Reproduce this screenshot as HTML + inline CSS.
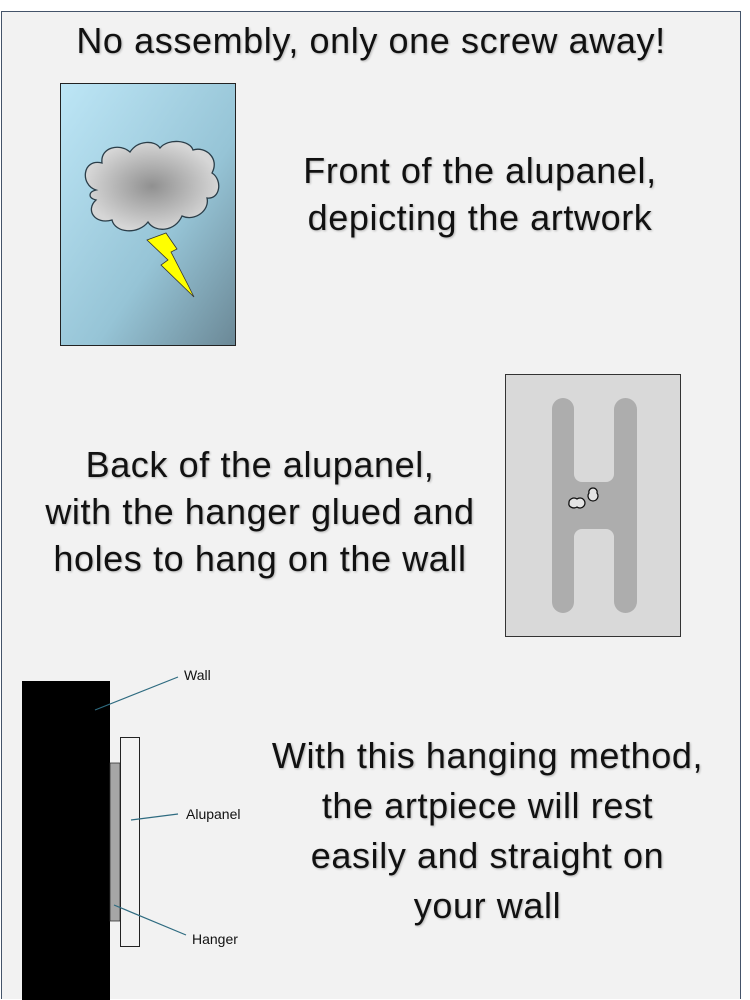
<!DOCTYPE html>
<html><head><meta charset="utf-8"><style>
body{margin:0;width:750px;height:1000px;background:#fff;position:relative;overflow:hidden;font-family:"Liberation Sans",sans-serif;}
#frame{position:absolute;left:1px;top:11px;width:740px;height:988px;background:#f2f2f2;border:1px solid #44546a;border-bottom:none;box-sizing:border-box;}
.t{position:absolute;color:#111;text-align:center;font-size:36px;letter-spacing:0.6px;line-height:47px;text-shadow:1px 1px 2px rgba(0,0,0,0.25);white-space:nowrap;}
.s{position:absolute;font-size:14px;color:#111;}
</style></head><body>
<div id="frame"></div>
<div class="t" style="left:0;width:742px;top:17px;">No assembly, only one screw away!</div>
<div class="t" style="left:260px;width:440px;top:147px;">Front of the alupanel,<br>depicting the artwork</div>
<div class="t" style="left:0px;width:520px;top:441px;">Back of the alupanel,<br>with the hanger glued and<br>holes to hang on the wall</div>
<div class="t" style="left:240px;width:495px;top:731px;line-height:50px;">With this hanging method,<br>the artpiece will rest<br>easily and straight on<br>your wall</div>
<svg width="750" height="1000" style="position:absolute;left:0;top:0">
<defs>
<linearGradient id="sky" x1="0" y1="0" x2="1" y2="1"><stop offset="0" stop-color="#bde6f6"/><stop offset="0.6" stop-color="#96c4d6"/><stop offset="1" stop-color="#6b8896"/></linearGradient>
<radialGradient id="cl" cx="0.5" cy="0.5" r="0.5"><stop offset="0" stop-color="#909090"/><stop offset="1" stop-color="#d6d6d6"/></radialGradient>
</defs>
<rect x="60.5" y="83.5" width="175" height="262" fill="url(#sky)" stroke="#222" stroke-width="1"/>
<path d="M96 190 C80 185 82 158 102 163 C100 147 120 143 130 152 C138 140 155 140 160 148 C168 138 190 140 193 150 C205 146 220 158 212 173 C223 180 220 200 207 198 C210 210 195 222 182 216 C175 232 155 233 148 222 C138 235 115 233 112 220 C95 225 85 210 96 200 C88 198 88 192 96 190 Z" fill="url(#cl)" stroke="#2a3d48" stroke-width="1.3"/>
<path d="M147 240 L166 233 L177 249 L171 252 L188 285 L194 297 L161 265 L168 260 Z" fill="#ffff00" stroke="#333" stroke-width="0.8"/>
<rect x="505.5" y="374.5" width="175" height="262" fill="#d9d9d9" stroke="#333" stroke-width="1"/>
<rect x="570" y="474" width="48" height="62" fill="#adadad"/>
<rect x="574" y="410" width="40" height="72" rx="8" fill="#d9d9d9"/>
<rect x="574" y="529" width="40" height="70" rx="8" fill="#d9d9d9"/>
<rect x="552" y="398" width="22" height="215" rx="11" fill="#adadad"/>
<rect x="614" y="398" width="23" height="215" rx="11.5" fill="#adadad"/>
<path d="M569 503 a5 4.5 0 0 1 8 -4 a5 5 0 1 1 0 8 a5 4 0 0 1 -8 -4 Z" fill="#e4e4e4" stroke="#111" stroke-width="1.3"/>
<path d="M593 488 a4 4 0 0 1 4 5 a5 5 0 1 1 -8 0 a4 4 0 0 1 4 -5 Z" fill="#e4e4e4" stroke="#111" stroke-width="1.3"/>
<rect x="22" y="681" width="88" height="319" fill="#000"/>
<rect x="110" y="763" width="10" height="158" fill="#a6a6a6" stroke="#333" stroke-width="0.8"/>
<rect x="120.5" y="737.5" width="19" height="209" fill="#f2f2f2" stroke="#222" stroke-width="1"/>
<line x1="95" y1="710" x2="178" y2="677" stroke="#2e6b80" stroke-width="1.2"/>
<line x1="131" y1="820" x2="178" y2="814" stroke="#2e6b80" stroke-width="1.2"/>
<line x1="114" y1="905" x2="186" y2="935" stroke="#2e6b80" stroke-width="1.2"/>
</svg>
<div class="s" style="left:184px;top:667px;">Wall</div>
<div class="s" style="left:186px;top:806px;">Alupanel</div>
<div class="s" style="left:192px;top:931px;">Hanger</div>
</body></html>
